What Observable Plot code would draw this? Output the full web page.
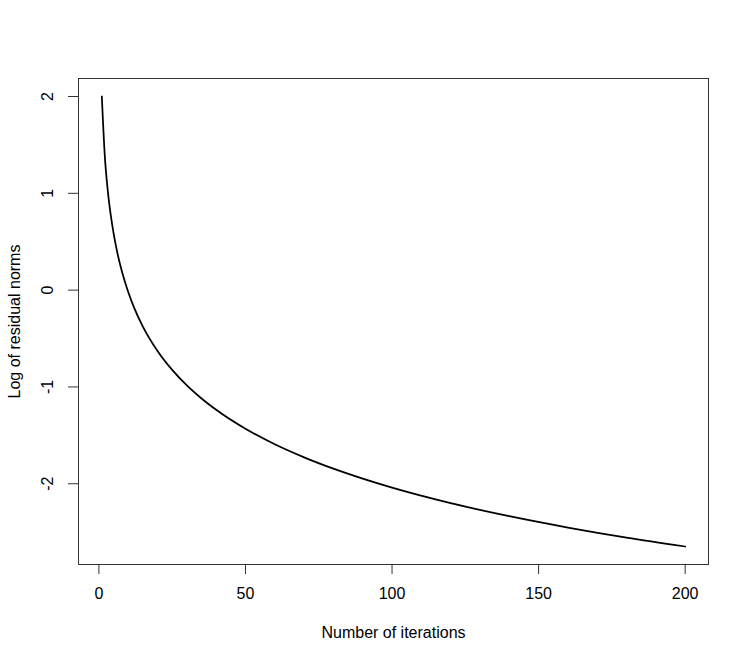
<!DOCTYPE html>
<html>
<head>
<meta charset="utf-8">
<script src="https://cdn.jsdelivr.net/npm/d3@7"></script>
<script src="https://cdn.jsdelivr.net/npm/@observablehq/plot@0.6"></script>
<style>
  html, body { margin: 0; padding: 0; background: #fff; }
  #chart { width: 748px; height: 662px; }
</style>
</head>
<body>
<div id="chart"></div>
<script>
// Iteration numbers and read log residual norms
const iterations = [1, 2, 3, 4, 5, 6, 7, 8, 10, 12, 15, 20, 25, 30, 35, 40, 50, 60, 70, 80, 90, 100, 120, 140, 160, 180, 200];
const logResidual = [2.000, 1.392, 1.036, 0.784, 0.588, 0.428, 0.293, 0.176, -0.020, -0.180, -0.376, -0.628, -0.824, -0.984, -1.119, -1.236, -1.432, -1.592, -1.727, -1.844, -1.947, -2.040, -2.200, -2.335, -2.452, -2.556, -2.648];
const xTicks = [0, 50, 100, 150, 200];
const yTicks = [-2, -1, 0, 1, 2];
const xTitle = "Number of iterations";
const yTitle = "Log of residual norms";

const data = iterations.map((x, i) => ({x, y: logResidual[i]}));

// R-style 4% padding of data range
const xMin = d3.min(iterations), xMax = d3.max(iterations);
const yMin = d3.min(logResidual), yMax = d3.max(logResidual);
const xPad = (xMax - xMin) * 0.04, yPad = (yMax - yMin) * 0.04;
const xDom = [xMin - xPad, xMax + xPad];
const yDom = [yMin - yPad, yMax + yPad];

const font = "'Liberation Sans', Arial, Helvetica, sans-serif";

const chart = Plot.plot({
  width: 748,
  height: 662,
  marginLeft: 78,
  marginRight: 40,
  marginTop: 78,
  marginBottom: 98,
  style: {fontFamily: font, fontSize: "16px", background: "#fff", color: "#000"},
  x: {domain: xDom, axis: null},
  y: {domain: yDom, axis: null},
  marks: [
    Plot.frame({stroke: "#333", strokeWidth: 1}),
    // x ticks
    Plot.axisX({ticks: xTicks, tickSize: 10, tickFormat: () => "", stroke: "#333", label: null}),
    Plot.text(xTicks, {x: d => d, frameAnchor: "bottom", dy: 29, text: d => String(d), fontSize: 16, fill: "#000", textAnchor: "middle", lineAnchor: "middle"}),
    // y ticks
    Plot.axisY({ticks: yTicks, tickSize: 10, tickFormat: () => "", stroke: "#333", label: null}),
    Plot.text(yTicks, {y: d => d, frameAnchor: "left", dx: -31, rotate: -90, text: d => String(d), fontSize: 16, fill: "#000", textAnchor: "middle", lineAnchor: "middle"}),
    // titles
    Plot.text([xTitle], {frameAnchor: "bottom", dy: 68, text: d => d, fontSize: 16, fill: "#000", textAnchor: "middle", lineAnchor: "middle"}),
    Plot.text([yTitle], {frameAnchor: "left", dx: -64, rotate: -90, text: d => d, fontSize: 16, fill: "#000", textAnchor: "middle", lineAnchor: "middle"}),
    // curve
    Plot.line(data, {x: "x", y: "y", stroke: "#000", strokeWidth: 1.75, curve: "monotone-x"})
  ]
});
document.getElementById("chart").appendChild(chart);
</script>
</body>
</html>
